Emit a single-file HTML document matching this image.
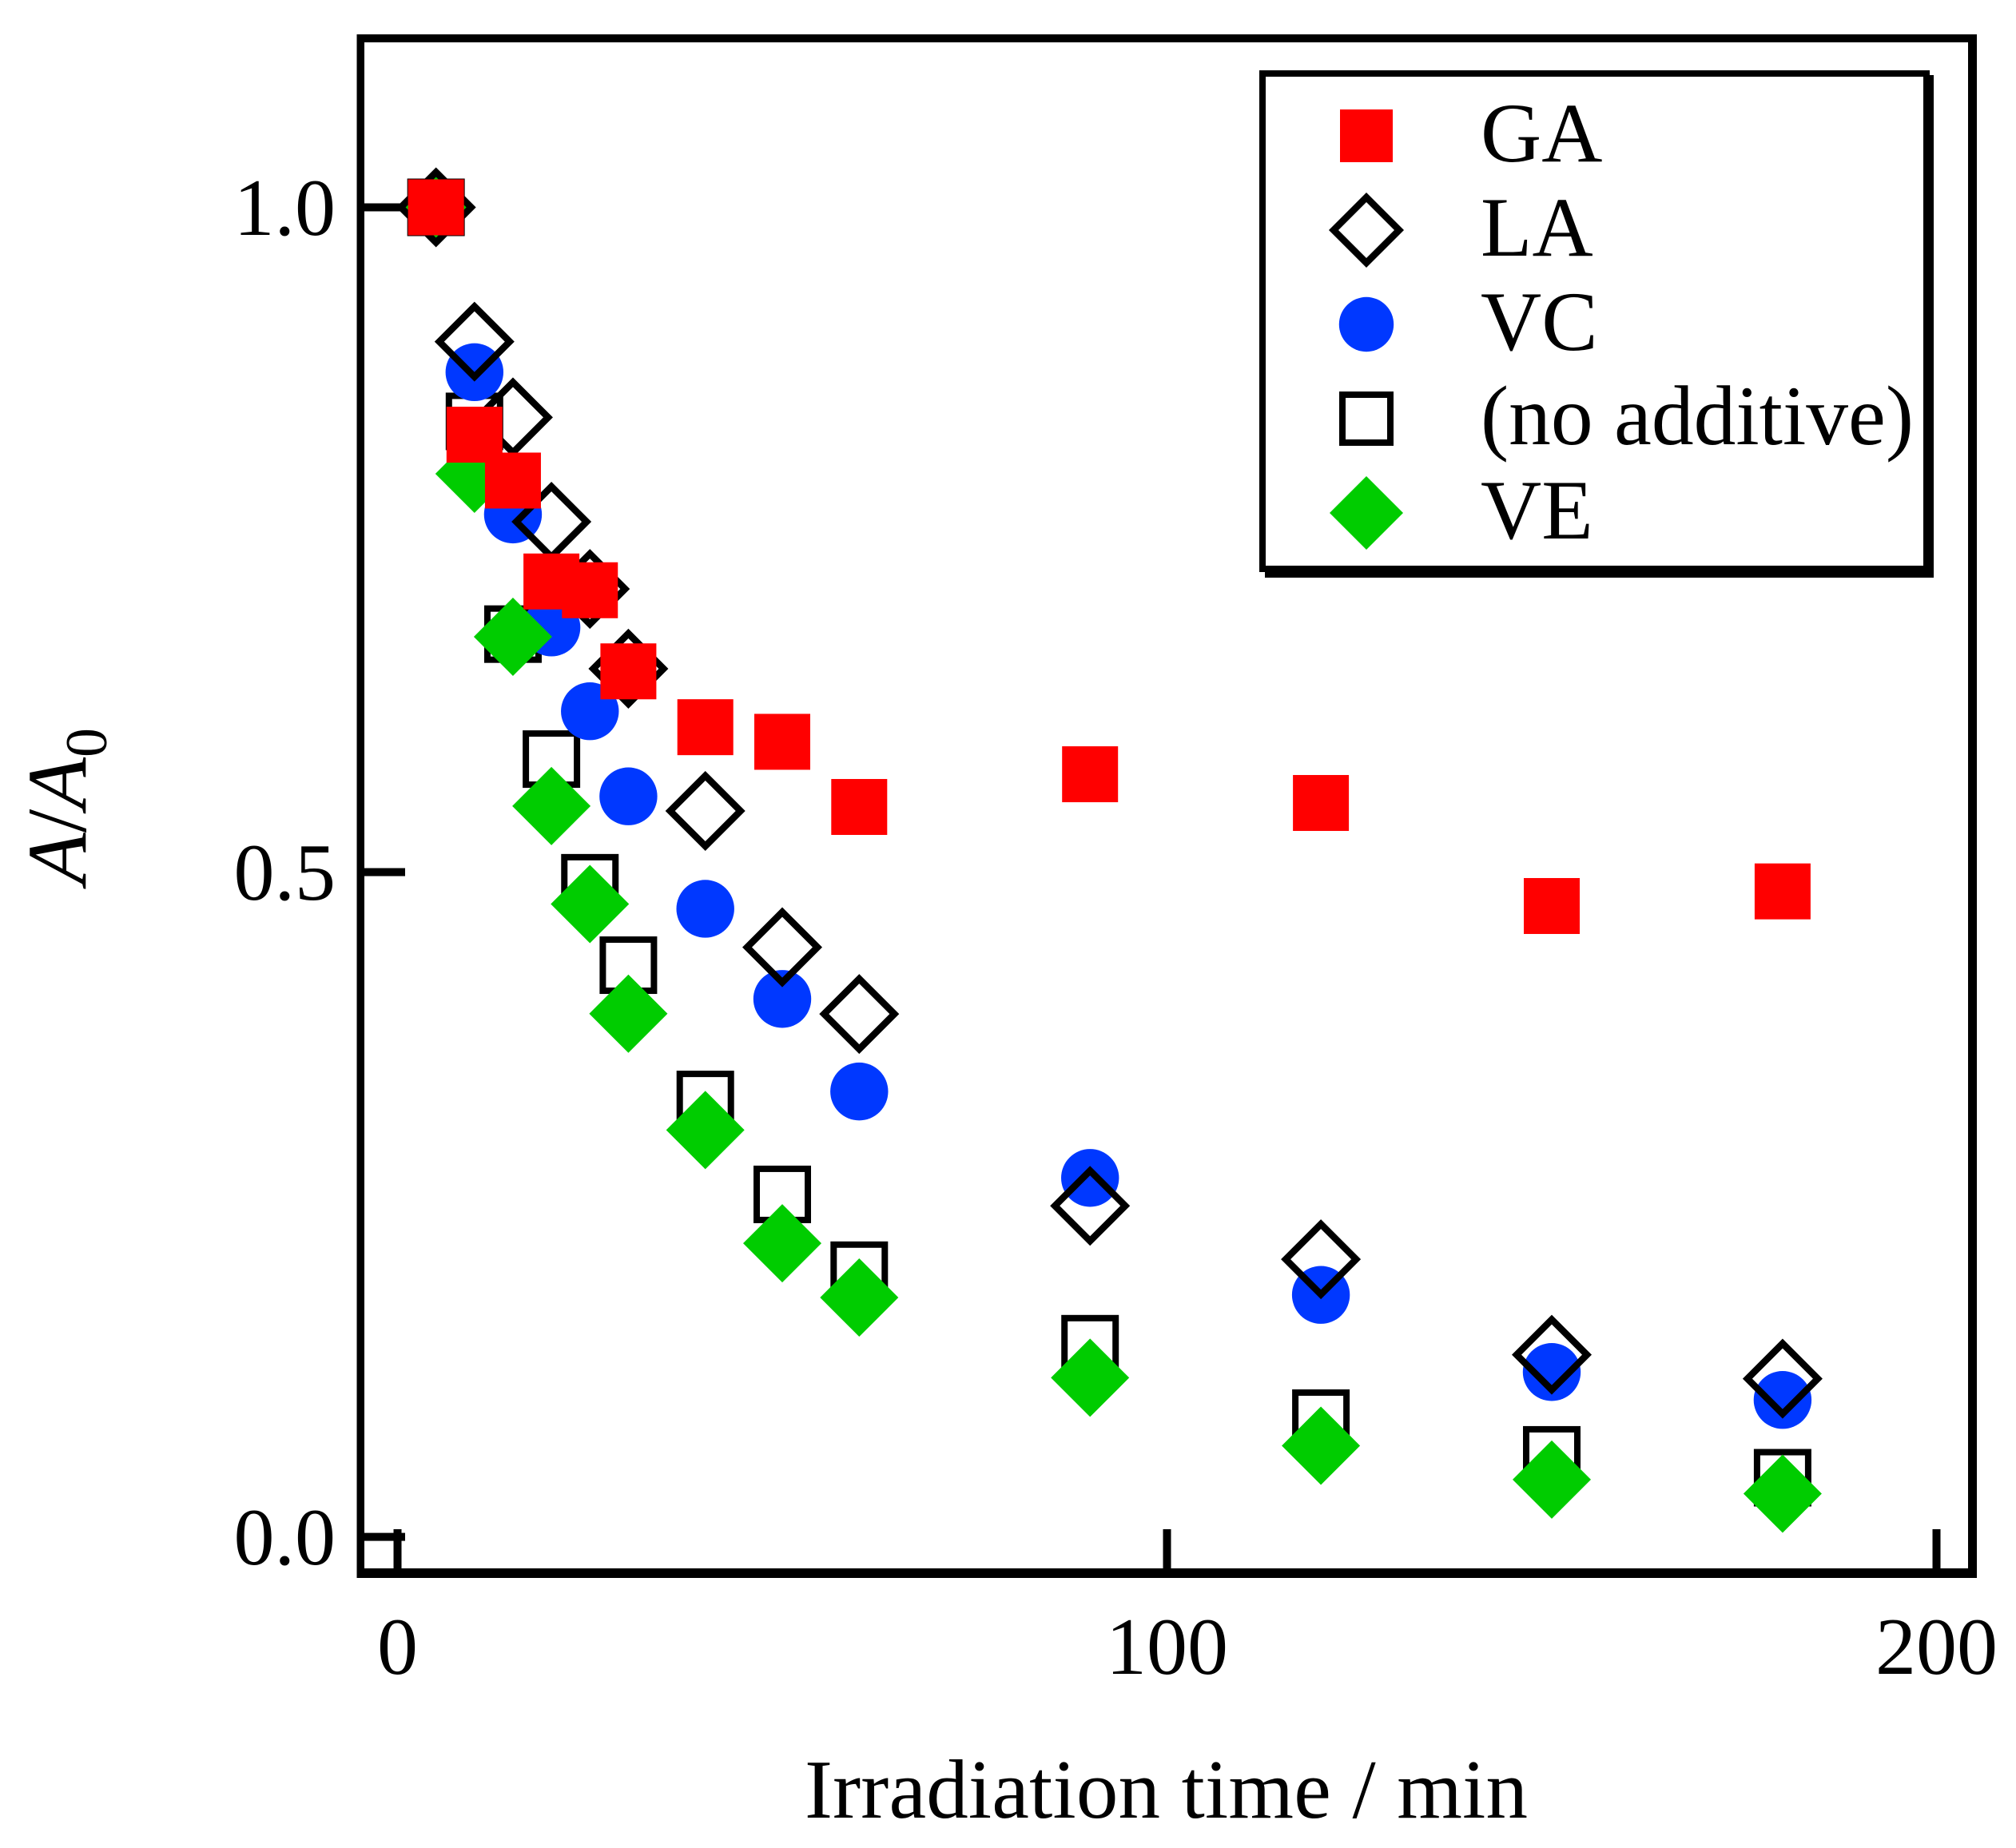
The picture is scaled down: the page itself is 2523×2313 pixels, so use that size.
<!DOCTYPE html>
<html lang="en">
<head>
<meta charset="utf-8">
<title>A/A0 versus irradiation time</title>
<style>
html,body{margin:0;padding:0;background:#fff;}
svg{display:block;}
text{font-family:"Liberation Serif",serif;fill:#000;}
</style>
</head>
<body>
<svg id="chart" xmlns="http://www.w3.org/2000/svg" width="2523" height="2313" viewBox="0 0 2523 2313">
  <rect x="0" y="0" width="2523" height="2313" fill="#fff"/>
  <g id="series-layer"></g>
  <g id="frame-layer">
    <rect x="446.5" y="43" width="9.5" height="1932" fill="#000"/>
    <rect x="446.5" y="43" width="2027.5" height="10" fill="#000"/>
    <rect x="2463" y="43" width="11" height="1932" fill="#000"/>
    <rect x="446.5" y="1963" width="2027.5" height="12" fill="#000"/>
  </g>
  <g id="tick-layer"></g>
  <text x="1007" y="2275" font-size="105" textLength="905" lengthAdjust="spacing">Irradiation time / min</text>
  <text transform="translate(107,1107) rotate(-90)" font-size="106"><tspan font-style="italic">A</tspan>/<tspan font-style="italic">A</tspan><tspan font-size="74" dy="26">0</tspan></text>
  <g id="legend-layer">
    <rect x="1583" y="94" width="837" height="629" fill="#000"/>
    <rect x="1580" y="92" width="831" height="620" fill="#fff" stroke="#000" stroke-width="8"/>
  </g>
</svg>
<script>
const times = [5, 10, 15, 20, 25, 30, 40, 50, 60, 90, 120, 150, 180];
const gaValues = [1.0, 0.829, 0.7945, 0.7186, 0.712, 0.651, 0.609, 0.598, 0.549, 0.5736, 0.552, 0.4745, 0.4855];
const laValues = [1.0, 0.899, 0.842, 0.7635, 0.713, 0.653, 0.546, 0.4435, 0.3933, 0.249, 0.2088, 0.137, 0.119];
const vcValues = [1.0, 0.876, 0.769, 0.684, 0.621, 0.557, 0.4724, 0.4046, 0.335, 0.27, 0.182, 0.124, 0.103];
const noAdditiveValues = [1.0, 0.839, 0.679, 0.585, 0.492, 0.43, 0.329, 0.2576, 0.2006, 0.1453, 0.0893, 0.0617, 0.0445];
const veValues = [1.0, 0.7996, 0.677, 0.5497, 0.476, 0.3935, 0.306, 0.2208, 0.18, 0.1197, 0.0686, 0.0431, 0.0325];
const xTicks = [0, 100, 200];
const xTickLabels = ["0", "100", "200"];
const yTicks = [0, 0.5, 1];
const yTickLabels = ["0.0", "0.5", "1.0"];
const legendLabels = ["GA", "LA", "VC", "(no additive)", "VE"];

const NS = "http://www.w3.org/2000/svg";
function xScale(t) { return 497.5 + 9.63 * t; }
function yScale(v) { return 1923.6 - 1664.1 * v; }

function make(tag, attrs, parent) {
  const el = document.createElementNS(NS, tag);
  for (const k in attrs) el.setAttribute(k, attrs[k]);
  parent.appendChild(el);
  return el;
}

function drawSquare(cx, cy, size, parent) {
  return make("rect", {x: cx - size / 2, y: cy - size / 2, width: size, height: size, fill: "#ff0000"}, parent);
}
function drawOpenSquare(cx, cy, size, parent) {
  const inner = size - 8;
  return make("rect", {x: cx - inner / 2, y: cy - inner / 2, width: inner, height: inner, fill: "none", stroke: "#000", "stroke-width": 8}, parent);
}
function drawCircle(cx, cy, r, parent) {
  return make("circle", {cx: cx, cy: cy, r: r, fill: "#0038ff"}, parent);
}
function diamondPoints(cx, cy, h) {
  return (cx - h) + "," + cy + " " + cx + "," + (cy - h) + " " + (cx + h) + "," + cy + " " + cx + "," + (cy + h);
}
function drawOpenDiamond(cx, cy, h, parent) {
  return make("polygon", {points: diamondPoints(cx, cy, h), fill: "none", stroke: "#000", "stroke-width": 8.5, "stroke-linejoin": "miter"}, parent);
}
function drawDiamond(cx, cy, h, parent) {
  return make("polygon", {points: diamondPoints(cx, cy, h), fill: "#00cc00"}, parent);
}

const seriesLayer = document.getElementById("series-layer");

const noAdditiveGroup = make("g", {}, seriesLayer);


noAdditiveValues.forEach(function (v, i) {
  const m = drawOpenSquare(xScale(times[i]), yScale(v), 72, noAdditiveGroup);
  
  
});

const vcGroup = make("g", {}, seriesLayer);


vcValues.forEach(function (v, i) {
  const m = drawCircle(xScale(times[i]), yScale(v), 36.2, vcGroup);
  
  
});

const veGroup = make("g", {}, seriesLayer);


veValues.forEach(function (v, i) {
  const m = drawDiamond(xScale(times[i]), yScale(v), 49, veGroup);
  
  
});

const laGroup = make("g", {}, seriesLayer);


laValues.forEach(function (v, i) {
  const m = drawOpenDiamond(xScale(times[i]), yScale(v), 44, laGroup);
  
  
});

const gaGroup = make("g", {}, seriesLayer);


gaValues.forEach(function (v, i) {
  const m = drawSquare(xScale(times[i]), yScale(v), 70, gaGroup);
  
  
});

const tickLayer = document.getElementById("tick-layer");
xTicks.forEach(function (t, i) {
  const line = make("rect", {x: xScale(t) - 5, y: 1914, width: 10, height: 50, fill: "#000"}, tickLayer);
  
  
  const label = make("text", {x: xScale(t), y: 2095, "font-size": 102, "text-anchor": "middle"}, tickLayer);
  label.textContent = xTickLabels[i];
  
  
});
yTicks.forEach(function (v, i) {
  const line = make("rect", {x: 455, y: yScale(v) - 5, width: 52, height: 10, fill: "#000"}, tickLayer);
  
  
  const label = make("text", {x: 420, y: yScale(v) + 34.5, "font-size": 102, "text-anchor": "end"}, tickLayer);
  label.textContent = yTickLabels[i];
  
  
});

const legendLayer = document.getElementById("legend-layer");
const legendIconX = 1710;
const legendTextX = 1853;
const legendFirstRow = 170;
const legendRowGap = 118;
const legendDrawers = [
  function (y) { return drawSquare(legendIconX, y, 66, legendLayer); },
  function (y) { return drawOpenDiamond(legendIconX, y, 41, legendLayer); },
  function (y) { return drawCircle(legendIconX, y, 34.2, legendLayer); },
  function (y) { return drawOpenSquare(legendIconX, y, 68, legendLayer); },
  function (y) { return drawDiamond(legendIconX, y, 46, legendLayer); }
];
legendLabels.forEach(function (name, i) {
  const y = legendFirstRow + legendRowGap * i;
  const icon = legendDrawers[i](y);
  
  
  const label = make("text", {x: legendTextX, y: y + 32, "font-size": 105.5}, legendLayer);
  label.textContent = name;
  
  
});
</script>
</body>
</html>
